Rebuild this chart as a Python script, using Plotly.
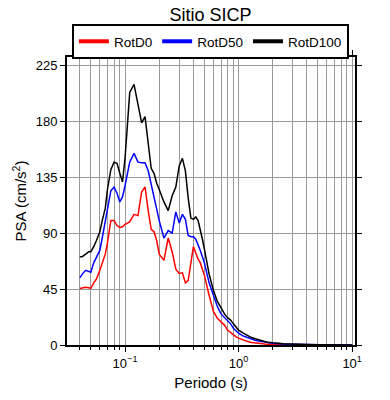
import plotly.graph_objects as go

periods = [0.04, 0.042, 0.045, 0.048, 0.05, 0.053, 0.056, 0.06, 0.063, 0.067, 0.07, 0.075,
           0.08, 0.085, 0.09, 0.095, 0.1, 0.11, 0.12, 0.13, 0.14, 0.15, 0.16, 0.17, 0.18,
           0.19, 0.2, 0.22, 0.24, 0.26, 0.28, 0.3, 0.32, 0.34, 0.36, 0.38, 0.4, 0.42, 0.44,
           0.46, 0.48, 0.5, 0.55, 0.6, 0.65, 0.7, 0.75, 0.8, 0.85, 0.9, 0.95, 1.0, 1.1, 1.2,
           1.3, 1.4, 1.5, 1.6, 1.7, 1.8, 1.9, 2.0, 2.5, 3.0, 3.5, 4.0, 5.0, 6.0, 7.0, 8.0,
           9.0, 10.0]

rotd0 = [45.5, 46, 46.5, 46, 45.5, 50, 53, 60, 65, 73, 82, 100,
         100, 96, 94.5, 95, 97, 99, 105, 104, 123, 127, 108, 93, 91,
         84, 73, 68, 86, 75, 61, 57.5, 58, 50, 52, 65, 79, 74, 69,
         66, 60, 56, 40, 27, 21.5, 18.5, 16, 12, 10, 8, 6.5, 5.5, 3.8, 2.8,
         2.0, 1.5, 1.2, 1.0, 0.8, 0.7, 0.6, 0.5, 0.3, 0.2, 0.15, 0.12, 0.08, 0.06, 0.05, 0.04,
         0.03, 0.03]

rotd50 = [54, 57, 60, 59, 58.5, 66, 71, 76, 86, 100, 110, 124,
          127, 122, 115, 119, 128, 147, 154, 147, 146.5, 146.5, 140, 129, 118,
          110, 100, 86, 92, 90, 107, 98, 105, 101, 88, 87, 87, 85, 81,
          76, 71, 66, 50, 40, 31, 25, 22, 19, 17, 13.5, 11, 9.5, 7.2, 5.8,
          4.6, 3.8, 3.2, 2.7, 2.3, 2.0, 1.7, 1.5, 0.9, 0.6, 0.4, 0.3, 0.2, 0.15, 0.11, 0.09,
          0.07, 0.05]

rotd100 = [71, 71, 73, 75, 75, 79, 84, 91, 100, 110, 125, 141,
           147, 146, 138, 131, 150, 203, 209.5, 193, 178.5, 183.5, 164, 142, 138,
           130, 125, 115, 108, 120, 127, 144, 150, 140, 118, 102, 101, 103, 100,
           93, 85, 77, 57, 44, 35, 30, 25, 22, 20, 17, 14, 12, 9.5, 7.5,
           6.0, 5.0, 4.0, 3.3, 2.8, 2.3, 2.0, 1.8, 1.1, 0.7, 0.5, 0.4, 0.25, 0.18, 0.13, 0.1,
           0.08, 0.06]

series_names = ["RotD0", "RotD50", "RotD100"]
series_colors = ["#ff0000", "#0000ff", "#000000"]
series_values = [rotd0, rotd50, rotd100]

x_major = [0.1, 1, 10]
x_major_text = ["10<sup>\u22121</sup>", "10<sup>0</sup>", "10<sup>1</sup>"]
x_minor = [m * d for d in (0.01, 0.1, 1) for m in range(2, 10)]
y_ticks = [0, 45, 90, 135, 180, 225]

FONT = "Liberation Sans, Arial, Helvetica, sans-serif"

fig = go.Figure()
for name, color, vals in zip(series_names, series_colors, series_values):
    fig.add_trace(go.Scatter(x=periods, y=vals, mode="lines", name=name,
                             line=dict(color=color, width=1.5), showlegend=False))
    fig.add_trace(go.Scatter(x=[None], y=[None], mode="lines", name=name,
                             line=dict(color=color, width=4), showlegend=True))

# page body has an 8px default margin, so offsets are compensated here
fig.update_layout(
    width=390, height=400,
    margin=dict(l=59, r=43, t=49, b=63, autoexpand=False),
    paper_bgcolor="white", plot_bgcolor="white",
    font=dict(family=FONT, size=13, color="black"),
    title=dict(text="Sitio SICP", x=0.519, xanchor="center", y=0.999, yanchor="top",
               xref="container", yref="container", font=dict(size=18, family=FONT)),
    legend=dict(orientation="h", x=0.519, xanchor="center", y=0.96, yanchor="top",
                xref="container", yref="container",
                bordercolor="black", borderwidth=2, font=dict(size=13.5),
                itemwidth=30, tracegroupgap=0),
    showlegend=True,
)

fig.update_xaxes(
    type="log", range=[-1.511, 1.025], automargin=False,
    tickmode="array", tickvals=x_major, ticktext=x_major_text,
    ticks="outside", ticklen=5, tickwidth=1, tickcolor="black",
    showline=True, linecolor="black", linewidth=2, mirror="allticks",
    showgrid=True, gridcolor="#9a9a9a", gridwidth=1,
    minor=dict(tickmode="array", tickvals=x_minor, ticks="outside", ticklen=3,
               tickcolor="black", showgrid=True, gridcolor="#9a9a9a", gridwidth=1),
    title=dict(text="Periodo (s)", font=dict(size=15), standoff=8),
    zeroline=False,
)
fig.update_yaxes(
    range=[0, 231.5], automargin=False,
    tickmode="array", tickvals=y_ticks,
    ticks="outside", ticklen=5, tickwidth=1, tickcolor="black",
    showline=True, linecolor="black", linewidth=2, mirror="allticks",
    showgrid=True, gridcolor="#9a9a9a", gridwidth=1,
    title=dict(text="PSA (cm/s<sup>2</sup>)", font=dict(size=15), standoff=5),
    zeroline=False,
)

fig.write_html("out.html")
